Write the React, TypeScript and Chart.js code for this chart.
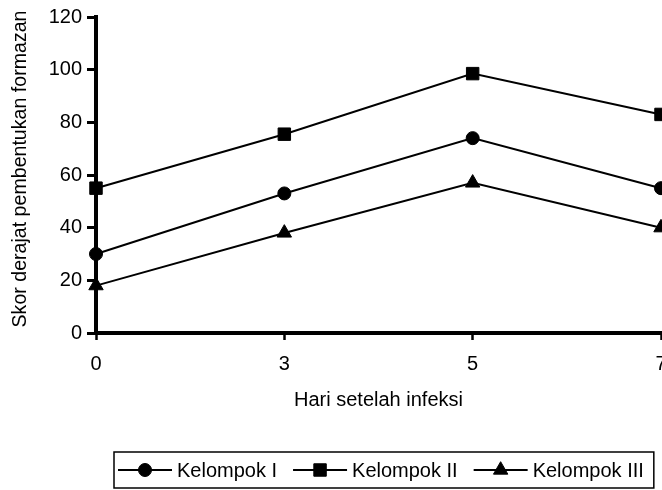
import React, { useEffect, useRef } from 'react';
import { Chart, registerables } from 'chart.js';
import { drawPoint } from 'chart.js/helpers';

Chart.register(...registerables);

// ---- data ----
const days = ['0', '3', '5', '7'];
const kelompokI = [30, 53, 74, 55];
const kelompokII = [55, 75.5, 98.5, 83];
const kelompokIII = [18, 38, 57, 40];
const seriesNames = ['Kelompok I', 'Kelompok II', 'Kelompok III'];
const yMin = 0;
const yMax = 120;
const yStep = 20;
const xTitle = 'Hari setelah infeksi';
const yTitle = 'Skor derajat pembentukan formazan';

const FONT = '"Liberation Sans", Arial, Helvetica, sans-serif';
const FS = 20;

const yTitlePlugin = {
  id: 'yTitle',
  afterDraw(chart: any) {
    const ctx = chart.ctx as CanvasRenderingContext2D;
    const area = chart.chartArea;
    ctx.save();
    ctx.font = `19.6px ${FONT}`;
    ctx.fillStyle = '#000';
    ctx.textAlign = 'center';
    ctx.textBaseline = 'middle';
    ctx.translate(21, (area.top + area.bottom) / 2 - 6);
    ctx.rotate(-Math.PI / 2);
    ctx.fillText(yTitle, 0, 0);
    ctx.restore();
  },
};

const boxLegend = {
  id: 'boxLegend',
  afterDraw(chart: any) {
    const ctx = chart.ctx as CanvasRenderingContext2D;
    const ds = chart.data.datasets;
    const area = chart.chartArea;
    ctx.save();
    ctx.font = `${FS}px ${FONT}`;
    const lineLen = 54;
    const gapText = 5;
    const gapItem = 16;
    const padL = 4;
    const padR = 10;
    const widths = ds.map((d: any) => ctx.measureText(d.label).width);
    const total =
      ds.length * (lineLen + gapText) +
      widths.reduce((a: number, b: number) => a + b, 0) +
      gapItem * (ds.length - 1);
    const left = area.left + 18;
    const top = area.bottom + 119;
    const h = 36;
    const w = padL + total + padR;
    ctx.strokeStyle = '#000';
    ctx.lineWidth = 1.5;
    ctx.strokeRect(left, top, w, h);
    const cy = top + h / 2;
    let x = left + padL;
    ds.forEach((d: any, i: number) => {
      ctx.beginPath();
      ctx.moveTo(x, cy);
      ctx.lineTo(x + lineLen, cy);
      ctx.lineWidth = 2;
      ctx.strokeStyle = '#000';
      ctx.stroke();
      ctx.fillStyle = '#000';
      ctx.strokeStyle = '#000';
      ctx.lineWidth = 1;
      drawPoint(
        ctx,
        { pointStyle: d.pointStyle, radius: d.pointRadius, rotation: 0, borderWidth: 1 } as any,
        x + lineLen / 2,
        cy
      );
      ctx.fillStyle = '#000';
      ctx.textAlign = 'left';
      ctx.textBaseline = 'middle';
      ctx.fillText(d.label, x + lineLen + gapText, cy + 1);
      x += lineLen + gapText + widths[i] + gapItem;
    });
    ctx.restore();
  },
};

export default function App() {
  const ref = useRef<HTMLCanvasElement>(null);

  useEffect(() => {
    const canvas = ref.current;
    if (!canvas) return;
    const mk = (label: string, data: number[], style: string, r: number) => ({
      label,
      data,
      borderColor: '#000',
      backgroundColor: '#000',
      borderWidth: 2,
      pointStyle: style,
      pointRadius: r,
      pointBorderWidth: 1,
      pointBackgroundColor: '#000',
      pointBorderColor: '#000',
      tension: 0,
      clip: false as any,
    });
    const chart = new Chart(canvas, {
      type: 'line',
      data: {
        labels: days,
        datasets: [
          mk(seriesNames[0], kelompokI, 'circle', 6.5),
          mk(seriesNames[1], kelompokII, 'rect', 8.8),
          mk(seriesNames[2], kelompokIII, 'triangle', 8.3),
        ],
      },
      options: {
        animation: false,
        responsive: false,
        maintainAspectRatio: false,
        layout: { padding: { top: 17, right: 39, left: 0, bottom: 0 } },
        plugins: {
          legend: { display: false },
          tooltip: { enabled: false },
        },
        scales: {
          x: {
            type: 'category',
            offset: false,
            grid: {
              display: true,
              drawOnChartArea: false,
              drawTicks: true,
              tickLength: 7,
              tickWidth: 2.5,
              tickColor: '#000',
              color: '#000',
            },
            border: { display: true, width: 4, color: '#000' },
            ticks: {
              color: '#000',
              font: { family: FONT, size: FS },
              padding: 12,
              maxRotation: 0,
              autoSkip: false,
            },
            title: {
              display: true,
              text: xTitle,
              color: '#000',
              font: { family: FONT, size: FS },
              padding: { top: 0, bottom: 78 },
            },
            afterFit: (s: any) => {
              s.height = 157;
            },
          },
          y: {
            min: yMin,
            max: yMax,
            grid: {
              display: true,
              drawOnChartArea: false,
              drawTicks: true,
              tickLength: 9,
              tickWidth: 3,
              tickColor: '#000',
              color: '#000',
            },
            border: { display: true, width: 4, color: '#000' },
            ticks: {
              stepSize: yStep,
              color: '#000',
              font: { family: FONT, size: FS },
              padding: 5,
            },
            title: { display: false },
            afterFit: (s: any) => {
              s.width = 96;
            },
          },
        },
      },
      plugins: [yTitlePlugin, boxLegend],
    });
    return () => chart.destroy();
  }, []);

  return (
    <div
      style={{
        position: 'fixed',
        left: 0,
        top: 0,
        width: 700,
        height: 490,
        background: '#fff',
        overflow: 'hidden',
      }}
    >
      <canvas
        ref={ref}
        width={700}
        height={490}
        style={{ display: 'block', width: 700, height: 490 }}
      />
    </div>
  );
}
